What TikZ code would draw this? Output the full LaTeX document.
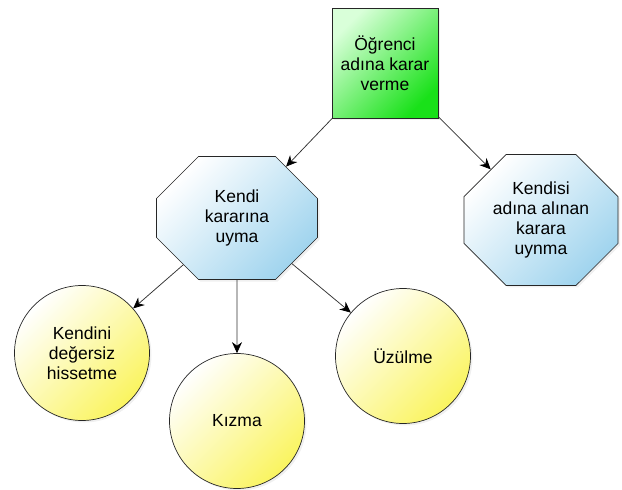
\documentclass[tikz,border=0pt]{standalone}
\usepackage{fontspec}
\setmainfont{Liberation Sans}
\usepackage{tikz}
\usetikzlibrary{shapes, arrows.meta, shadows}
\definecolor{leafgreen}{RGB}{25,225,25}
\definecolor{skyblue}{RGB}{160,212,238}
\definecolor{lemon}{RGB}{250,244,95}
\tikzset{
    decision/.style={rectangle, draw=black!85, line width=0.7pt, minimum width=106pt, minimum height=110pt, top color=green!15, bottom color=leafgreen, shading angle=45, align=center, drop shadow={opacity=0.12, shadow xshift=2pt, shadow yshift=-2pt}},
    choice/.style={chamfered rectangle, chamfered rectangle xsep=18pt, chamfered rectangle ysep=24pt, draw=black!85, line width=0.7pt, minimum width=161pt, minimum height=123pt, top color=white, bottom color=skyblue, shading angle=45, align=center, drop shadow={opacity=0.12, shadow xshift=2pt, shadow yshift=-2pt}},
    feeling/.style={circle, draw=black!85, line width=0.7pt, minimum size=135pt, top color=white, bottom color=lemon, shading angle=45, align=center, drop shadow={opacity=0.12, shadow xshift=2pt, shadow yshift=-2pt}},
    arrow/.style={-{Stealth[length=11pt, width=10pt, color=black]}, draw=black!80, line width=0.75pt}
}

\begin{document}
\begin{tikzpicture}[x=1pt, y=-1pt, font=\fontsize{17.5}{20}\selectfont]
    \useasboundingbox (0,0) rectangle (622,490);

    % Top decision
    \node[decision] (ogrenci) at (385,63) {Öğrenci\\adına karar\\verme};

    % Choices
    \node[choice] (uyma) at (237,218) {Kendi\\kararına\\uyma};
    \node[choice, minimum width=154pt, minimum height=125pt] (uynma) at (541,220) {Kendisi\\adına alınan\\karara\\uynma};

    % Feelings
    \node[feeling] (deger) at (82,353) {Kendini\\değersiz\\hissetme};
    \node[feeling] (kizma) at (237,421) {Kızma};
    \node[feeling] (uzulme) at (403,356) {Üzülme};

    % Arrows
    \draw[arrow] (ogrenci) -- (uyma);
    \draw[arrow] (ogrenci) -- (uynma);
    \draw[arrow] (uyma) -- (deger);
    \draw[arrow] (uyma) -- (kizma);
    \draw[arrow] (uyma) -- (uzulme);
\end{tikzpicture}
\end{document}
